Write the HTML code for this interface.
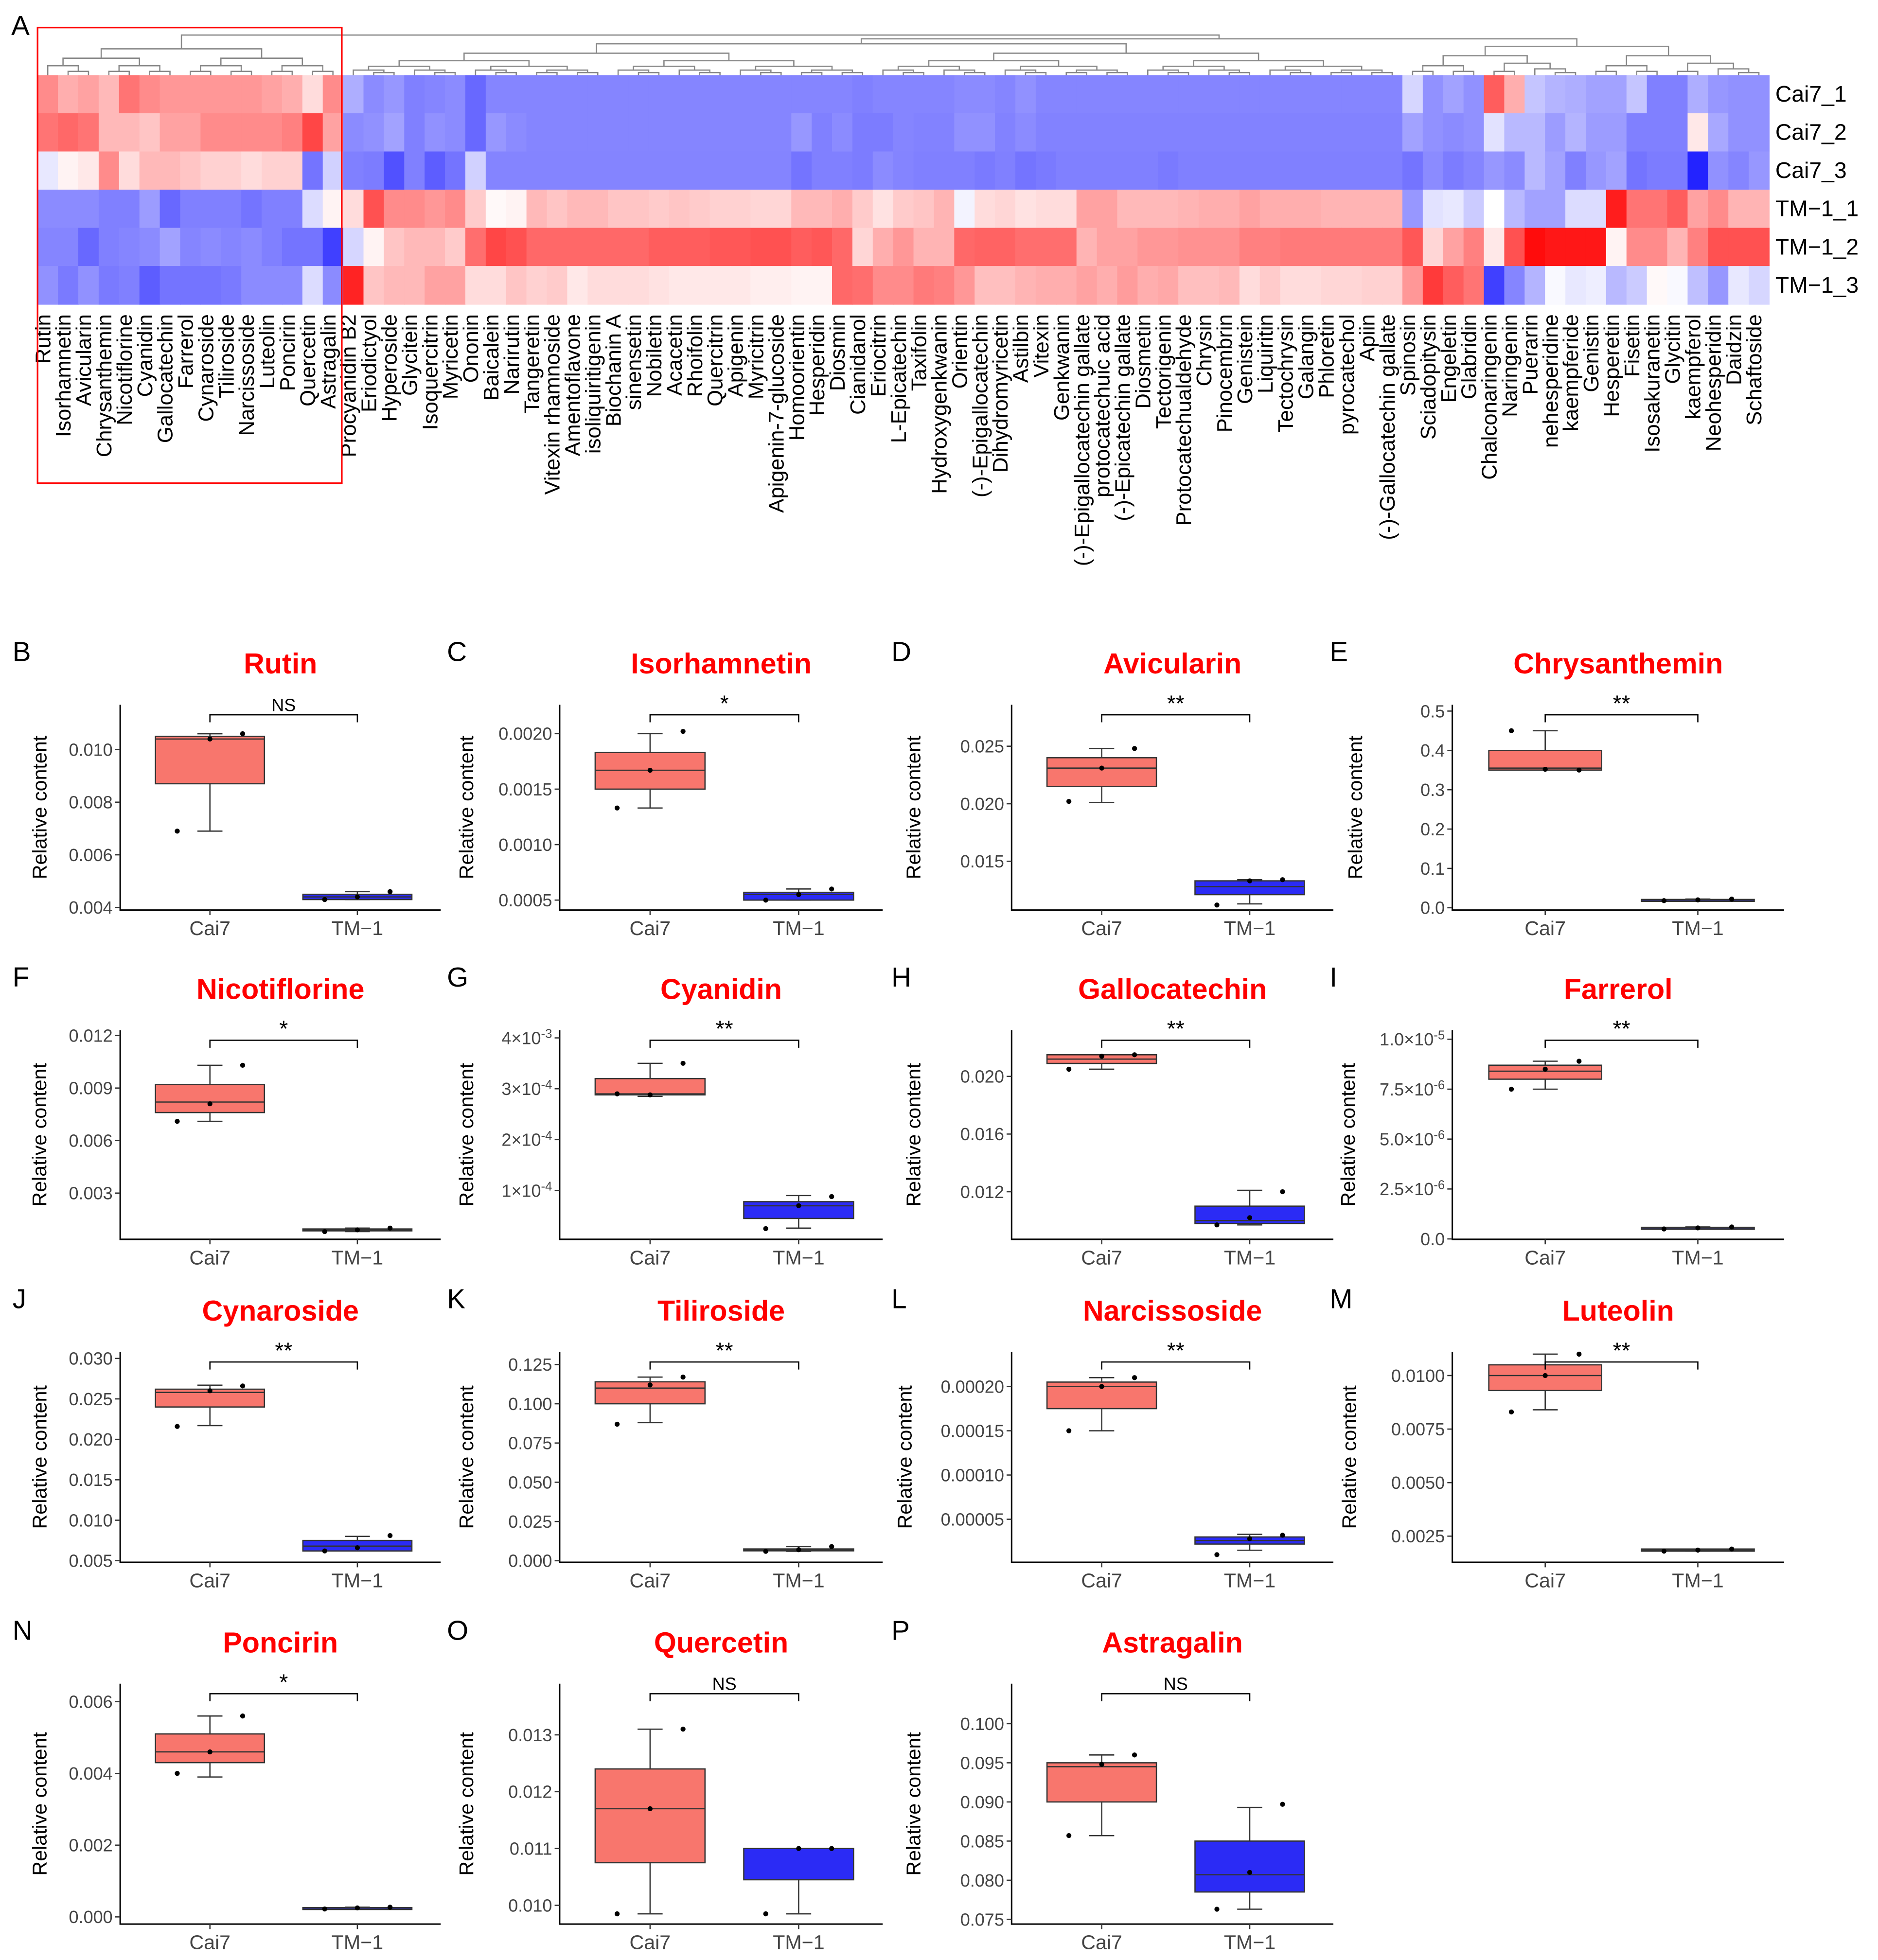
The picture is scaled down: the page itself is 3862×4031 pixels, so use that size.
<!DOCTYPE html>
<html><head><meta charset="utf-8"><style>
html,body{margin:0;padding:0;background:#fff}
svg{display:block}
text{font-family:"Liberation Sans",Arial,sans-serif}
</style></head><body>
<svg id="fig" xmlns="http://www.w3.org/2000/svg" width="3862" height="4031" viewBox="0 0 1500 1565.7" preserveAspectRatio="none">
<rect width="1500" height="1566" fill="#fff"/>
<g id="heat"></g>
<g id="boxes"></g>
</svg>
<script>
// ---------- Heatmap data ----------
const compounds=["Rutin","Isorhamnetin","Avicularin","Chrysanthemin","Nicotiflorine","Cyanidin","Gallocatechin","Farrerol","Cynaroside","Tiliroside","Narcissoside","Luteolin","Poncirin","Quercetin","Astragalin","Procyanidin B2","Eriodictyol","Hyperoside","Glycitein","Isoquercitrin","Myricetin","Ononin","Baicalein","Narirutin","Tangeretin","Vitexin rhamnoside","Amentoflavone","isoliquiritigenin","Biochanin A","sinensetin","Nobiletin","Acacetin","Rhoifolin","Quercitrin","Apigenin","Myricitrin","Apigenin-7-glucoside","Homoorientin","Hesperidin","Diosmin","Cianidanol","Eriocitrin","L-Epicatechin","Taxifolin","Hydroxygenkwanin","Orientin","(-)-Epigallocatechin","Dihydromyricetin","Astilbin","Vitexin","Genkwanin","(-)-Epigallocatechin gallate","protocatechuic acid","(-)-Epicatechin gallate","Diosmetin","Tectorigenin","Protocatechualdehyde","Chrysin","Pinocembrin","Genistein","Liquiritin","Tectochrysin","Galangin","Phloretin","pyrocatechol","Apiin","(-)-Gallocatechin gallate","Spinosin","Sciadopitysin","Engeletin","Glabridin","Chalconaringenin","Naringenin","Puerarin","nehesperidine","kaempferide","Genistin","Hesperetin","Fisetin","Isosakuranetin","Glycitin","kaempferol","Neohesperidin","Daidzin","Schaftoside"];
const samples=["Cai7_1","Cai7_2","Cai7_3","TM\u22121_1","TM\u22121_2","TM\u22121_3"];
const zCai7_1=[1.0,0.7,0.8,0.6,1.2,1.0,0.9,0.9,0.9,0.9,0.9,0.8,0.7,0.3,1.0,
-0.7,-1.0,-0.9,-1.1,-1.05,-1.0,-1.3,
-1.05,-1.05,-1.05,-1.05,-1.05,-1.05,-1.05,-1.05,-1.05,-1.05,-1.05,-1.05,-1.05,-1.05,-1.05,-1.05,-1.05,-1.05,-1.1,-1.05,-1.05,
-1.05,-1.05,-1.0,-1.0,-1.05,-0.95,-1.05,-1.05,-1.05,-1.05,-1.05,-1.05,-1.05,-1.05,-1.05,-1.05,-1.05,-1.05,-1.05,-1.05,-1.05,-1.05,-1.05,-1.05,
-0.35,-0.95,-0.8,-0.95,1.4,0.7,-0.5,-0.65,-0.7,-0.8,-0.8,-0.5,-1.1,-1.1,-0.7,-0.9,-0.95,-0.95];
const zCai7_2=[1.2,1.3,1.2,0.6,0.6,0.5,0.8,0.8,1.0,1.0,1.0,1.0,1.1,1.6,0.8,
-1.0,-0.95,-0.8,-1.1,-0.95,-1.0,-1.3,
-0.9,-1.0,-1.05,-1.05,-1.05,-1.05,-1.05,-1.05,-1.05,-1.05,-1.05,-1.05,-1.05,-1.05,-1.05,-0.9,-1.1,-1.0,-1.13,-1.13,-1.05,
-1.08,-1.08,-0.95,-0.95,-1.08,-1.0,-1.08,-1.08,-1.08,-1.08,-1.08,-1.08,-1.08,-1.08,-1.08,-1.08,-1.08,-1.08,-1.08,-1.08,-1.08,-1.08,-1.08,-1.08,
-0.8,-0.95,-1.0,-0.95,-0.25,-0.6,-0.6,-0.85,-0.65,-0.85,-0.85,-1.1,-1.1,-1.1,0.2,-0.75,-0.95,-0.95];
const zCai7_3=[-0.2,0.1,0.2,1.0,0.3,0.6,0.6,0.5,0.4,0.4,0.3,0.4,0.4,-1.2,-0.4,
-1.1,-1.13,-1.5,-1.1,-1.4,-1.2,-0.4,
-1.06,-1.06,-1.06,-1.06,-1.06,-1.06,-1.06,-1.06,-1.06,-1.06,-1.06,-1.06,-1.06,-1.06,-1.06,-1.2,-1.1,-1.1,-1.13,-1.0,-1.06,
-1.1,-1.1,-1.1,-1.15,-1.1,-1.2,-1.15,-1.1,-1.1,-1.1,-1.1,-1.1,-1.15,-1.1,-1.1,-1.1,-1.1,-1.1,-1.1,-1.1,-1.1,-1.1,-1.1,-1.1,
-1.2,-1.0,-1.13,-1.05,-0.9,-1.0,-0.6,-0.8,-1.1,-0.9,-0.8,-1.2,-1.13,-1.13,-1.9,-0.95,-1.05,-0.9];
const zTM_1=[-1.0,-1.0,-1.0,-1.1,-1.1,-0.85,-1.3,-1.1,-1.1,-1.1,-1.2,-1.1,-1.1,-0.3,0.1,
0.3,1.5,1.0,1.0,0.9,1.0,0.45,0.05,0.1,0.6,0.5,0.6,0.6,0.5,0.5,0.45,0.5,0.45,0.4,0.4,0.35,0.35,0.6,0.6,0.7,0.45,0.25,0.45,
0.5,0.65,-0.1,0.3,0.35,0.25,0.3,0.3,0.8,0.8,0.6,0.6,0.6,0.65,0.7,0.7,0.8,0.7,0.7,0.7,0.65,0.65,0.65,0.65,
-0.9,-0.25,-0.2,-0.45,0,-0.6,-0.8,-0.8,-0.3,-0.3,1.95,1.2,1.2,1.4,0.8,1.0,0.65,0.65];
const zTM_2=[-1.05,-1.05,-1.3,-1.1,-1.05,-1.0,-0.8,-1.05,-1.0,-1.05,-1.0,-1.1,-1.2,-1.2,-1.65,
-0.35,0.1,0.5,0.6,0.6,0.45,1.25,1.6,1.5,1.3,1.3,1.3,1.3,1.3,1.3,1.4,1.4,1.4,1.45,1.45,1.5,1.5,1.4,1.45,1.3,0.35,0.7,0.9,
0.65,0.65,1.3,1.35,1.35,1.25,1.25,1.25,0.65,0.8,0.8,0.9,0.9,0.95,0.95,0.95,1.1,1.1,1.15,1.15,1.15,1.15,1.15,1.15,
1.45,0.35,0.8,1.1,0.2,1.5,2.1,2.0,2.0,2.0,0.1,1.0,1.0,0.65,1.1,1.5,1.5,1.5];
const zTM_3=[-0.95,-1.15,-0.95,-1.15,-1.1,-1.4,-1.2,-1.2,-1.2,-1.15,-1.0,-1.0,-1.0,-0.3,-1.0,
1.9,0.5,0.6,0.6,0.8,0.8,0.3,0.3,0.5,0.4,0.45,0.2,0.3,0.3,0.3,0.25,0.2,0.2,0.2,0.2,0.15,0.15,0.1,0.1,1.3,1.25,1.0,1.0,
1.15,1.1,0.9,0.55,0.55,0.65,0.7,0.7,0.8,0.7,0.85,0.7,0.75,0.55,0.55,0.6,0.3,0.45,0.3,0.3,0.35,0.35,0.4,0.4,
0.9,1.7,1.4,1.2,-1.65,-1.05,-0.65,-0.05,-0.2,-0.15,-0.6,-0.45,0.05,-0.05,-0.55,-0.9,-0.2,-0.35];
const zRows=[zCai7_1,zCai7_2,zCai7_3,zTM_1,zTM_2,zTM_3];
const clusterBreaks=[0,15,67,85];

// ---------- Boxplot data ----------
const boxNames=["Rutin","Isorhamnetin","Avicularin","Chrysanthemin","Nicotiflorine","Cyanidin","Gallocatechin","Farrerol","Cynaroside","Tiliroside","Narcissoside","Luteolin","Poncirin","Quercetin","Astragalin"];
const boxLetters=["B","C","D","E","F","G","H","I","J","K","L","M","N","O","P"];
const sigLabels=["NS","*","**","**","*","**","**","**","**","**","**","**","*","NS","NS"];
const yDomains=[[0.0039,0.0117],[0.00041,0.00226],[0.01076,0.0286],[-0.006,0.516],[0.00036,0.0123],[0.04e-4,4.15e-4],[0.0087,0.0232],[-0.02e-6,1.045e-5],[0.0048,0.0308],[-0.001,0.133],[0.0000014,0.000239],[0.00128,0.0111],[-0.0002,0.0065],[0.00967,0.0139],[0.0744,0.1051]];
const tickValues=[[0.004,0.006,0.008,0.010],[0.0005,0.0010,0.0015,0.0020],[0.015,0.020,0.025],[0,0.1,0.2,0.3,0.4,0.5],[0.003,0.006,0.009,0.012],[1e-4,2e-4,3e-4,4e-4],[0.012,0.016,0.020],[0,2.5e-6,5e-6,7.5e-6,1e-5],[0.005,0.010,0.015,0.020,0.025,0.030],[0,0.025,0.05,0.075,0.1,0.125],[0.00005,0.0001,0.00015,0.0002],[0.0025,0.005,0.0075,0.01],[0,0.002,0.004,0.006],[0.010,0.011,0.012,0.013],[0.075,0.08,0.085,0.09,0.095,0.1]];
const tickLabels=[["0.004","0.006","0.008","0.010"],["0.0005","0.0010","0.0015","0.0020"],["0.015","0.020","0.025"],["0.0","0.1","0.2","0.3","0.4","0.5"],["0.003","0.006","0.009","0.012"],["1×10^-4","2×10^-4","3×10^-4","4×10^-3"],["0.012","0.016","0.020"],["0.0","2.5×10^-6","5.0×10^-6","7.5×10^-6","1.0×10^-5"],["0.005","0.010","0.015","0.020","0.025","0.030"],["0.000","0.025","0.050","0.075","0.100","0.125"],["0.00005","0.00010","0.00015","0.00020"],["0.0025","0.0050","0.0075","0.0100"],["0.000","0.002","0.004","0.006"],["0.010","0.011","0.012","0.013"],["0.075","0.080","0.085","0.090","0.095","0.100"]];
// [min,q1,median,q3,max]
const cai7Stats=[[0.0069,0.0087,0.0104,0.0105,0.0106],[0.00133,0.0015,0.00167,0.00183,0.0020],[0.0201,0.0215,0.0231,0.0240,0.0248],[0.35,0.35,0.355,0.40,0.45],[0.0071,0.0076,0.0082,0.0092,0.0103],[2.85e-4,2.88e-4,2.9e-4,3.2e-4,3.5e-4],[0.0205,0.0209,0.0212,0.0215,0.0215],[7.5e-6,8.0e-6,8.4e-6,8.7e-6,8.9e-6],[0.0217,0.024,0.0258,0.0262,0.0267],[0.088,0.1,0.11,0.114,0.117],[0.00015,0.000175,0.0002,0.000205,0.00021],[0.0084,0.0093,0.0100,0.0105,0.011],[0.0039,0.0043,0.0046,0.0051,0.0056],[0.00985,0.01075,0.0117,0.0124,0.0131],[0.0857,0.090,0.0945,0.095,0.096]];
const tmStats=[[0.0043,0.0043,0.0044,0.0045,0.0046],[0.0005,0.0005,0.00055,0.00057,0.0006],[0.0113,0.0121,0.0128,0.0133,0.0134],[0.018,0.019,0.02,0.021,0.022],[0.0008,0.00085,0.0009,0.00095,0.0010],[0.26e-4,0.45e-4,0.7e-4,0.78e-4,0.9e-4],[0.0097,0.0098,0.0100,0.0110,0.0121],[0.5e-6,0.52e-6,0.55e-6,0.58e-6,0.6e-6],[0.0062,0.0062,0.0068,0.0075,0.0080],[0.006,0.0065,0.007,0.0075,0.009],[0.000015,0.000022,0.000026,0.00003,0.000033],[0.0018,0.0018,0.00185,0.0019,0.0019],[0.00022,0.00023,0.00025,0.00026,0.00027],[0.00985,0.01045,0.0110,0.0110,0.0110],[0.0763,0.0785,0.0807,0.085,0.0893]];
const cai7Points=[[0.0069,0.0104,0.0106],[0.00133,0.00167,0.00202],[0.0202,0.0231,0.0248],[0.45,0.352,0.35],[0.0071,0.0081,0.0103],[2.9e-4,2.88e-4,3.5e-4],[0.0205,0.0214,0.0215],[7.5e-6,8.5e-6,8.9e-6],[0.0216,0.0260,0.0266],[0.087,0.112,0.117],[0.00015,0.0002,0.00021],[0.0083,0.01,0.011],[0.004,0.0046,0.0056],[0.00985,0.0117,0.0131],[0.0857,0.0948,0.096]];
const tmPoints=[[0.0043,0.0044,0.0046],[0.0005,0.00055,0.0006],[0.0112,0.0133,0.0134],[0.018,0.02,0.022],[0.0008,0.0009,0.0010],[0.25e-4,0.7e-4,0.88e-4],[0.0097,0.0102,0.012],[0.5e-6,0.55e-6,0.6e-6],[0.0062,0.0066,0.0081],[0.006,0.007,0.009],[0.00001,0.000028,0.000032],[0.0018,0.00185,0.0019],[0.00022,0.00025,0.00027],[0.00985,0.0110,0.0110],[0.0763,0.081,0.0897]];
const groupLabels=["Cai7","TM\u22121"];

const NS="http://www.w3.org/2000/svg";
function mk(tag,attrs,parent){const e=document.createElementNS(NS,tag);for(const k in attrs)e.setAttribute(k,attrs[k]);parent.appendChild(e);return e;}

// ---------- Draw heatmap ----------
const heat=document.getElementById('heat');
const hx0=30,hx1=1413,hy0=60,hy1=243;
const cw=(hx1-hx0)/compounds.length, rh=(hy1-hy0)/samples.length;
function colX(i){return hx0+i*cw;}
function rowY(r){return hy0+r*rh;}
function zColor(v){const t=Math.min(1,Math.abs(v)/2.2);const c=Math.round(255*(1-t));return v>=0?`rgb(255,${c},${c})`:`rgb(${c},${c},255)`;}
zRows.forEach((row,r)=>{row.forEach((v,i)=>{
  const c=mk('rect',{x:colX(i),y:rowY(r),width:cw+0.4,height:rh+0.4,fill:zColor(v)},heat);
  
  
});});
samples.forEach((s,r)=>{
  const t=mk('text',{x:1418,y:rowY(r)+rh/2+6,'font-size':18,fill:'#000'},heat);t.textContent=s;
  
  
});
compounds.forEach((s,i)=>{
  const cx=colX(i)+cw/2+2;
  const t=mk('text',{x:cx,y:251,'font-size':17,'text-anchor':'end',transform:`rotate(-90 ${cx} 251)`,fill:'#000'},heat);t.textContent=s;
  
  
});
// dendrogram
const dg=mk('g',{stroke:'#888','stroke-width':1,fill:'none'},heat);


function tree(a,b,depth){
  if(b-a===1){return [colX(a)+cw/2,hy0];}
  const m=Math.floor((a+b)/2);
  const L=tree(a,m,depth+1),R=tree(m,b,depth+1);
  const y=Math.min(L[1],R[1])-Math.max(2,9-depth*1.5);
  mk('path',{d:`M${L[0]},${L[1]}V${y}H${R[0]}V${R[1]}`},dg);
  return [(L[0]+R[0])/2,y];
}
const tops=[];
for(let k=0;k<clusterBreaks.length-1;k++)tops.push(tree(clusterBreaks[k],clusterBreaks[k+1],1));
const j1y=Math.min(tops[1][1],tops[2][1])-4;
mk('path',{d:`M${tops[1][0]},${tops[1][1]}V${j1y}H${tops[2][0]}V${tops[2][1]}`},dg);
const j2y=Math.min(tops[0][1],j1y)-3;
const mid12=(tops[1][0]+tops[2][0])/2;
mk('path',{d:`M${tops[0][0]},${tops[0][1]}V${j2y}H${mid12}V${j1y}`},dg);
const rb=mk('rect',{x:30,y:22,width:243,height:364,fill:'none',stroke:'#ff0000','stroke-width':1.3},heat);


const la=mk('text',{x:9,y:28,'font-size':22},heat);la.textContent='A';



// ---------- Draw boxplots ----------
const boxes=document.getElementById('boxes');
const colLeft=[96,447,808,1160],colRight=[352,705,1065,1425],letterX=[10,357,712,1062];
const rowTop=[563,823,1080,1345],rowBot=[727,990,1248,1537];
const ylabOffset=[-59,-69,-73,-72,-59,-69,-73,-78,-59,-69,-80,-77,-59,-69,-73];
function addLabel(el,txt){
  const m=txt.match(/^(.*)\^(.*)$/);
  if(m){el.textContent=m[1];const ts=mk('tspan',{dy:-5,'font-size':10},el);ts.textContent=m[2];}
  else el.textContent=txt;
}
boxNames.forEach((name,p)=>{
  const ci=p%4,ri=Math.floor(p/4);
  const L=colLeft[ci],R=colRight[ci],T=rowTop[ri],B=rowBot[ri];
  const g=mk('g',{},boxes);
  
  
  const [lo,hi]=yDomains[p];
  const ys=v=>B-(v-lo)/(hi-lo)*(B-T);
  const xs=[L+(R-L)*0.28,L+(R-L)*0.74];
  const bw=(R-L)*0.34;
  mk('path',{d:`M${L},${T}V${B}H${R}`,stroke:'#000','stroke-width':1.2,fill:'none'},g);
  tickValues[p].forEach((v,k)=>{
    const y=ys(v);
    mk('line',{x1:L-4,x2:L,y1:y,y2:y,stroke:'#333'},g);
    const t=mk('text',{x:L-6,y:y+5,'font-size':14,'text-anchor':'end',fill:'#444'},g);
    addLabel(t,tickLabels[p][k]);
    
    
  });
  groupLabels.forEach((gl,k)=>{
    mk('line',{x1:xs[k],x2:xs[k],y1:B,y2:B+4,stroke:'#333'},g);
    const t=mk('text',{x:xs[k],y:B+20,'font-size':16,'text-anchor':'middle',fill:'#444'},g);t.textContent=gl;
    
    
  });
  const lx=L+ylabOffset[p];
  const yl=mk('text',{x:lx,y:(T+B)/2,'font-size':16,'text-anchor':'middle',transform:`rotate(-90 ${lx} ${(T+B)/2})`},g);yl.textContent='Relative content';
  
  
  const tt=mk('text',{x:(L+R)/2,y:T-25,'font-size':23,'font-weight':'bold',fill:'#ff0000','text-anchor':'middle'},g);tt.textContent=name;
  
  
  const lt=mk('text',{x:letterX[ci],y:T-35,'font-size':22},g);lt.textContent=boxLetters[p];
  
  
  [cai7Stats[p],tmStats[p]].forEach((s,k)=>{
    const x=xs[k];
    mk('path',{d:`M${x},${ys(s[0])}V${ys(s[1])}M${x},${ys(s[3])}V${ys(s[4])}M${x-10},${ys(s[0])}H${x+10}M${x-10},${ys(s[4])}H${x+10}`,stroke:'#333','stroke-width':1,fill:'none'},g);
    const r=mk('rect',{x:x-bw/2,y:ys(s[3]),width:bw,height:Math.max(1.5,ys(s[1])-ys(s[3])),fill:k?'#2b2bf5':'#f8766d',stroke:'#333','stroke-width':1},g);
    
    
    mk('line',{x1:x-bw/2,x2:x+bw/2,y1:ys(s[2]),y2:ys(s[2]),stroke:'#333','stroke-width':1},g);
  });
  [cai7Points[p],tmPoints[p]].forEach((pts,k)=>{
    pts.forEach((v,j)=>{
      const c=mk('circle',{cx:xs[k]+(j-1)*bw*0.3,cy:ys(v),r:2,fill:'#000'},g);
      
      
    });
  });
  const by=T+8;
  mk('path',{d:`M${xs[0]},${by+6}V${by}H${xs[1]}V${by+6}`,stroke:'#000','stroke-width':1,fill:'none'},g);
  const st=mk('text',{x:(xs[0]+xs[1])/2,y:by-3,'font-size':sigLabels[p]==='NS'?14:18,'text-anchor':'middle'},g);st.textContent=sigLabels[p];
  
  
});
</script>
</body></html>
